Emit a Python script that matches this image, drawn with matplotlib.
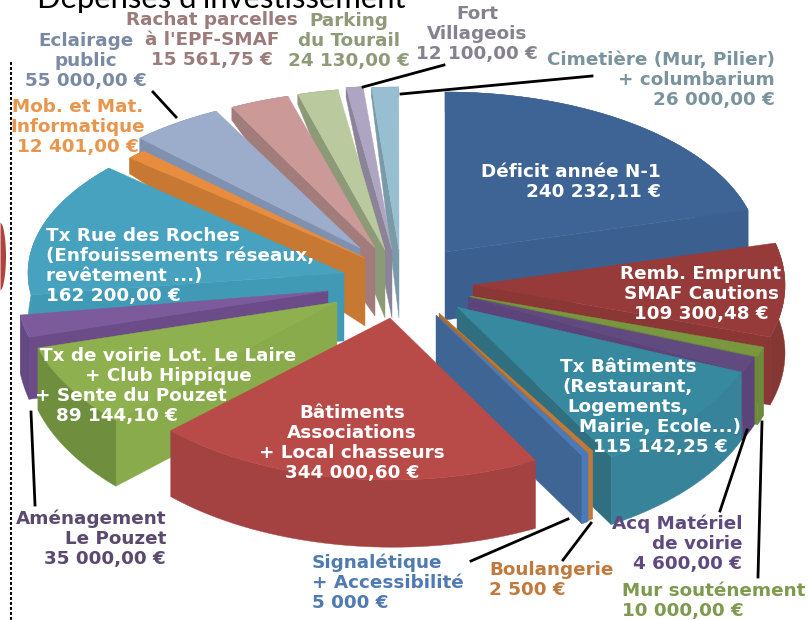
import numpy as np
import matplotlib
matplotlib.use('Agg')
from matplotlib import pyplot as plt

names = ['Deficit', 'Remb', 'Mur', 'Acq', 'TxBat', 'Boul', 'Signal', 'Bat', 'Voirie',
         'Amenag', 'TxRue', 'Mob', 'Eclairage', 'Rachat', 'Parking', 'Fort', 'Cimetiere']
values = [240232.11, 109300.48, 10000.00, 4600.00, 115142.25, 2500.00, 5000.00, 344000.60,
          89144.10, 35000.00, 162200.00, 12401.00, 55000.00, 15561.75, 24130.00, 12100.00,
          26000.00]

# colours: top face, outer wall, radial wall
top_col = ['#3E6495', '#963B39', '#78973F', '#614A80', '#37899F', '#C17A38', '#4B7ABA', '#B84A47',
           '#8FB04E', '#7D5A9B', '#47A2BF', '#E88D3D', '#9CADCC', '#CC9999', '#BBC99E', '#ADA5C2', '#98BFD1']
out_col = ['#3B6090', '#853734', '#6D8A3A', '#5C4379', '#37839A', '#C17A38', '#4B7ABA', '#A34240',
           '#6F8F3F', '#634A84', '#409AB6', '#C77933', '#8090AF', '#A27B7B', '#8D9A78', '#8B8499', '#7A9AA8']
side_col = ['#3B6090', '#8A3735', '#6D8A3A', '#5C4379', '#2F6F80', '#A96A30', '#3E6594', '#A34240',
            '#8AAB4C', '#6B4C88', '#409AB6', '#C77933', '#8090AF', '#A27B7B', '#8D9A78', '#8B8499', '#7A9AA8']

# exploded 3d look: apex x, apex y, rx, ry, start angle, sweep gain
apex_x = [445, 473, 470, 468, 457, 439, 436, 390, 337, 328, 344, 365, 360, 375, 385, 392, 399]
apex_y = [252, 285, 296, 297, 307, 313, 315, 318, 302, 291, 273, 258, 248, 248, 250, 250, 250]
rad_x = [314, 312, 308, 306, 307, 280, 280, 305, 311, 311, 316, 316, 314, 314, 314, 314, 314]
rad_y = [160, 170, 170, 170, 173, 165, 165, 162, 168, 168, 157, 150, 154, 158, 162, 164, 163]
start = [0, 75.7, 107.5, 110.7, 112.1, 146.7, 147.1, 151.5, 225.3, 254, 262, 311.9, 315.5, 332.9, 343.9, 351.6, 355]
gain = [1.092, 1.03, 1.2, 4.2, 1.15, 1.7, 1.05, 0.759, 1.133, 0.78, 1.08, 1.02, 1.1, 2.48, 1.09, 0.9, 0.67]

draw_order = [0, 1, 2, 3, 4, 5, 6, 16, 15, 14, 13, 12, 11, 10, 9, 8, 7]
apex_wall = 68
wall_ang = [0, 60, 150, 226, 254, 262, 312, 333, 345, 360]
wall_px = [20, 68, 68, 66, 62, 58, 16, 13, 10, 10]

white = 'white'
labels = [
    ('Déficit année N-1\n240 232,11 €', 661, 182, 'right', white),
    ('Remb. Emprunt\nSMAF Cautions\n109 300,48 €', 701, 294, 'center', white),
    ('Tx Bâtiments\n(Restaurant,\nLogements,', 628, 387, 'center', white),
    ('Mairie, Ecole...)\n115 142,25 €', 660, 437, 'center', white),
    ('Bâtiments\nAssociations\n+ Local chasseurs\n344 000,60 €', 352, 443, 'center', white),
    ('Tx de voirie Lot. Le Laire\n+ Club Hippique', 168, 366, 'center', white),
    ('+ Sente du Pouzet', 131, 396, 'center', white),
    ('89 144,10 €', 117, 416, 'center', white),
    ('Tx Rue des Roches\n(Enfouissements réseaux,\nrevêtement ...)\n162 200,00 €', 46, 266, 'left', white),
    ('Rachat parcelles\nà l\'EPF-SMAF\n15 561,75 €', 212, 40, 'center', '#9C7B7B'),
    ('Parking\ndu Tourail\n24 130,00 €', 349, 41, 'center', '#8F9A78'),
    ('Eclairage\npublic\n55 000,00 €', 86, 61, 'center', '#7B8AA3'),
    ('Mob. et Mat.\nInformatique\n12 401,00 €', 78, 127, 'center', '#E8964E'),
    ('Fort\nVillageois\n12 100,00 €', 477, 34, 'center', '#85818F'),
    ('Cimetière (Mur, Pilier)\n+ columbarium\n26 000,00 €', 775, 80, 'right', '#7B939D'),
    ('Aménagement\nLe Pouzet\n35 000,00 €', 166, 539, 'right', '#5B4A70'),
    ('Signalétique\n+ Accessibilité\n5 000 €', 312, 583, 'left', '#4F7BB0'),
    ('Boulangerie\n2 500 €', 489, 580, 'left', '#C07A3E'),
    ('Acq Matériel\nde voirie\n4 600,00 €', 742, 544, 'right', '#5F4A7F'),
    ('Mur souténement\n10 000,00 €', 622, 601, 'left', '#7E9A4E'),
]

leaders = [((153, 92), (176, 117)), ((363, 87), (444, 65)), ((401, 94), (592, 76)),
           ((31, 412), (35, 505)), ((568, 519), (471, 561)), ((591, 523), (563, 560)),
           ((747, 430), (720, 511)), ((762, 422), (758, 577))]

fig = plt.figure(figsize=(8.11, 6.20), dpi=100)
ax = fig.add_axes([0, 0, 1, 1])
ax.set_xlim(0, 811)
ax.set_ylim(620, 0)
ax.axis('off')

total = sum(values)
for i in draw_order:
    sweep = values[i] / total * 360 * gain[i]
    th = np.linspace(start[i], start[i] + sweep, 60)
    x = apex_x[i] + rad_x[i] * np.sin(np.radians(th))
    y = apex_y[i] - rad_y[i] * np.cos(np.radians(th))
    h = np.interp(th, wall_ang, wall_px)
    # the radial wall seen from the front
    k = -1 if th[-1] <= 180 else 0
    if th[0] + sweep / 2 > 200 or th[-1] <= 180:
        ax.fill([apex_x[i], x[k], x[k], apex_x[i]],
                [apex_y[i], y[k], y[k] + h[k], apex_y[i] + apex_wall],
                color=side_col[i], lw=0.3)
    ax.fill(np.r_[x, x[::-1]], np.r_[y, (y + h)[::-1]], color=out_col[i], lw=0.3)
    ax.fill(np.r_[apex_x[i], x], np.r_[apex_y[i], y], color=top_col[i], lw=0.3)

for a, b in leaders:
    ax.plot([a[0], b[0]], [a[1], b[1]], color='black', lw=2)

for txt, tx, ty, ha, col in labels:
    ax.text(tx, ty, txt, ha=ha, va='center', ma=ha, color=col, fontsize=13.25,
            fontweight='bold', family='DejaVu Sans', linespacing=1.13)

ax.text(37, 8, "Dépenses d'investissement", fontsize=22.3, family='Lato', fontweight='normal',
        color='black', va='baseline', clip_on=False)
ax.plot([11, 11], [62, 620], color='black', lw=1.5, ls=(0, (1.4, 1.0)))

# bit of the neighbouring slide's pie at the left edge
edge_y = np.linspace(222, 290, 30)
ax.fill_betweenx(edge_y, 0, 5.5 * np.sin(np.pi * (edge_y - 222) / 68) ** 0.5, color='#AE4340', lw=0)

fig.savefig('out.png', dpi=100)
